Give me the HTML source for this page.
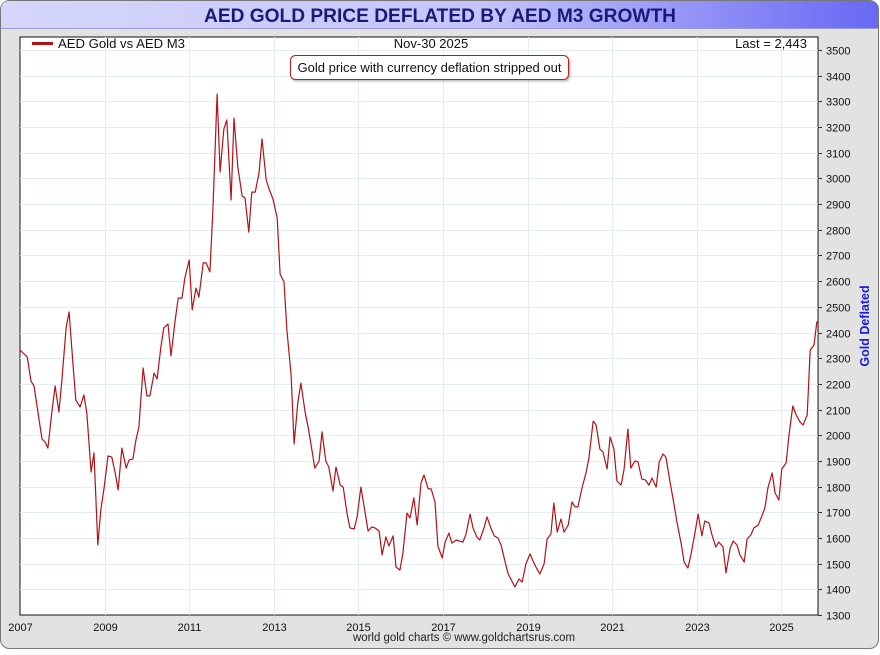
<!DOCTYPE html>
<html><head><meta charset="utf-8">
<style>
html,body{margin:0;padding:0;background:#fff;}
body{width:880px;height:650px;overflow:hidden;font-family:"Liberation Sans",sans-serif;}
</style></head>
<body>
<svg id="chart" width="880" height="650" xmlns="http://www.w3.org/2000/svg">
  <defs>
    <linearGradient id="tg" x1="0" x2="1" y1="0" y2="0">
      <stop offset="0" stop-color="#d6d6fa"/>
      <stop offset="0.55" stop-color="#c4c4fa"/>
      <stop offset="1" stop-color="#6868f4"/>
    </linearGradient>
    <filter id="sh" x="-10%" y="-20%" width="130%" height="160%">
      <feDropShadow dx="1.5" dy="1.5" stdDeviation="1" flood-color="#888" flood-opacity="0.6"/>
    </filter>
  </defs>
  <rect x="0.5" y="0.5" width="878" height="648" rx="9" fill="#e2e2e2" stroke="#777"/>
  <path d="M1,28 L1,10 Q1,1 10,1 L869,1 Q878,1 878,10 L878,28 Z" fill="url(#tg)"/>
  <line x1="1" y1="28.5" x2="878" y2="28.5" stroke="#9a9ad0"/>
  <text x="440" y="22" text-anchor="middle" font-size="19" font-weight="bold" fill="#1a1a78" textLength="472" lengthAdjust="spacingAndGlyphs">AED GOLD PRICE DEFLATED BY AED M3 GROWTH</text>
  <rect x="20" y="37" width="798" height="578" fill="#fff" stroke="#111" stroke-width="1"/>
  <g id="grid"></g>
  <g id="axes"></g>
  <path id="series" fill="none" stroke="#b31217" stroke-width="1.2" stroke-linejoin="round"/>
  <line x1="32" y1="43.5" x2="53" y2="43.5" stroke="#b31217" stroke-width="3"/>
  <text x="58" y="48" font-size="13" fill="#111" textLength="127" lengthAdjust="spacingAndGlyphs">AED Gold vs AED M3</text>
  <text x="431" y="48" font-size="13" text-anchor="middle" fill="#111">Nov-30  2025</text>
  <text x="807" y="48" font-size="13" text-anchor="end" fill="#111">Last = 2,443</text>
  <rect x="290.5" y="55.5" width="278" height="24" rx="5" fill="#fff" stroke="#c0141a" filter="url(#sh)"/>
  <text x="429.5" y="72" font-size="13" text-anchor="middle" fill="#111" textLength="264" lengthAdjust="spacingAndGlyphs">Gold price with currency deflation stripped out</text>
  <text transform="translate(869,326) rotate(-90)" font-size="12.5" font-weight="bold" text-anchor="middle" fill="#1a1ae0">Gold Deflated</text>
  <text x="464" y="641" font-size="11.5" text-anchor="middle" fill="#222" textLength="222" lengthAdjust="spacingAndGlyphs">world gold charts © www.goldchartsrus.com</text>
</svg>
<script>
const dates = [2007.00,2007.17,2007.26,2007.33,2007.52,2007.59,2007.66,2007.76,2007.83,2007.92,2007.99,2008.09,2008.16,2008.25,2008.32,2008.42,2008.51,2008.58,2008.68,2008.75,2008.84,2008.91,2008.99,2009.08,2009.17,2009.25,2009.32,2009.41,2009.51,2009.58,2009.67,2009.74,2009.81,2009.91,2010.00,2010.07,2010.17,2010.24,2010.33,2010.40,2010.50,2010.57,2010.66,2010.74,2010.83,2010.90,2011.00,2011.07,2011.16,2011.23,2011.33,2011.40,2011.49,2011.56,2011.66,2011.73,2011.82,2011.89,2011.99,2012.06,2012.15,2012.25,2012.32,2012.41,2012.48,2012.56,2012.65,2012.72,2012.82,2012.89,2012.98,2013.08,2013.15,2013.24,2013.31,2013.41,2013.48,2013.57,2013.64,2013.74,2013.81,2013.90,2013.97,2014.07,2014.14,2014.23,2014.30,2014.40,2014.47,2014.57,2014.64,2014.73,2014.80,2014.90,2014.97,2015.06,2015.16,2015.23,2015.32,2015.39,2015.49,2015.56,2015.65,2015.72,2015.82,2015.89,2015.98,2016.05,2016.15,2016.22,2016.31,2016.39,2016.48,2016.55,2016.65,2016.72,2016.81,2016.88,2016.98,2017.05,2017.14,2017.21,2017.31,2017.38,2017.47,2017.54,2017.64,2017.71,2017.80,2017.87,2017.97,2018.04,2018.13,2018.21,2018.30,2018.37,2018.47,2018.54,2018.63,2018.70,2018.80,2018.87,2018.96,2019.06,2019.13,2019.22,2019.29,2019.39,2019.46,2019.55,2019.62,2019.70,2019.79,2019.86,2019.96,2020.05,2020.12,2020.19,2020.29,2020.38,2020.45,2020.55,2020.62,2020.71,2020.78,2020.88,2020.95,2021.04,2021.11,2021.21,2021.28,2021.37,2021.44,2021.54,2021.61,2021.70,2021.78,2021.87,2021.94,2022.04,2022.11,2022.20,2022.27,2022.37,2022.46,2022.53,2022.63,2022.70,2022.79,2022.86,2022.96,2023.03,2023.12,2023.19,2023.29,2023.36,2023.45,2023.52,2023.62,2023.69,2023.79,2023.86,2023.95,2024.02,2024.12,2024.19,2024.28,2024.35,2024.45,2024.52,2024.61,2024.68,2024.78,2024.85,2024.94,2025.01,2025.11,2025.18,2025.27,2025.35,2025.44,2025.51,2025.61,2025.68,2025.77,2025.84];
const values = [2332,2305,2211,2192,1985,1974,1950,2098,2192,2090,2215,2418,2480,2281,2137,2110,2157,2087,1857,1931,1573,1709,1798,1919,1915,1853,1787,1950,1872,1904,1907,1981,2032,2262,2153,2153,2242,2219,2344,2418,2433,2309,2437,2534,2534,2616,2682,2488,2573,2538,2671,2671,2636,2877,3329,3025,3193,3228,2916,3235,3045,2932,2924,2791,2947,2947,3021,3154,2994,2959,2920,2846,2628,2597,2410,2235,1966,2129,2203,2090,2032,1943,1872,1900,2013,1900,1876,1783,1876,1806,1798,1697,1639,1635,1682,1798,1697,1627,1643,1639,1627,1534,1604,1569,1608,1487,1475,1538,1697,1678,1756,1650,1814,1845,1791,1791,1740,1569,1522,1584,1619,1580,1592,1588,1584,1612,1693,1639,1604,1592,1639,1682,1639,1608,1600,1573,1506,1460,1432,1409,1440,1428,1499,1538,1510,1479,1460,1499,1596,1615,1736,1623,1674,1623,1650,1740,1721,1721,1798,1853,1911,2055,2040,1946,1935,1869,1993,1946,1822,1806,1865,2024,1872,1900,1896,1830,1826,1806,1833,1798,1896,1927,1915,1814,1732,1662,1580,1506,1483,1534,1623,1693,1608,1666,1658,1612,1565,1584,1565,1464,1561,1588,1573,1534,1506,1596,1612,1639,1650,1678,1717,1795,1853,1775,1748,1869,1892,2001,2114,2079,2052,2040,2079,2332,2351,2443];
const yTicks = [1300,1400,1500,1600,1700,1800,1900,2000,2100,2200,2300,2400,2500,2600,2700,2800,2900,3000,3100,3200,3300,3400,3500];
const xTicks = [2007,2009,2011,2013,2015,2017,2019,2021,2023,2025];

const NS = "http://www.w3.org/2000/svg";
const X0 = 20, X1 = 818, Y0 = 615, Y1 = 37;
function xs(t){ return X0 + (t - 2007) * 42.3; }
function ys(v){ return 615 - (v - 1300) * 0.2568; }
const grid = document.getElementById('grid');
const axes = document.getElementById('axes');
function mk(tag, attrs, parent){ const e = document.createElementNS(NS, tag); for (const k in attrs) e.setAttribute(k, attrs[k]); parent.appendChild(e); return e; }

yTicks.forEach(v => {
  const y = Math.round(ys(v)) + 0.5;
  if (v > 1300) {
    const g = mk('line', {x1: X0, x2: X1, y1: y, y2: y, stroke: '#e2edf7', 'stroke-width': 1}, grid);
    
    
  }
  const t = mk('line', {x1: X1, x2: X1 + 4, y1: y, y2: y, stroke: '#333'}, axes);
  
  
  const l = mk('text', {x: 826, y: y + 4, 'font-size': 11, fill: '#111'}, axes);
  l.textContent = v;
  
  
});
xTicks.forEach(yr => {
  const x = Math.round(xs(yr)) + 0.5;
  if (yr > 2007) {
    const g = mk('line', {x1: x, x2: x, y1: Y1, y2: Y0, stroke: '#e2edf7', 'stroke-width': 1}, grid);
    
    
  }
  const l = mk('text', {x: x, y: 631, 'font-size': 11, fill: '#111', 'text-anchor': 'middle'}, axes);
  l.textContent = yr;
  
  
});
let d = '';
dates.forEach((t, i) => { d += (i ? 'L' : 'M') + xs(t).toFixed(1) + ',' + ys(values[i]).toFixed(1); });
document.getElementById('series').setAttribute('d', d);
</script>
</body></html>
